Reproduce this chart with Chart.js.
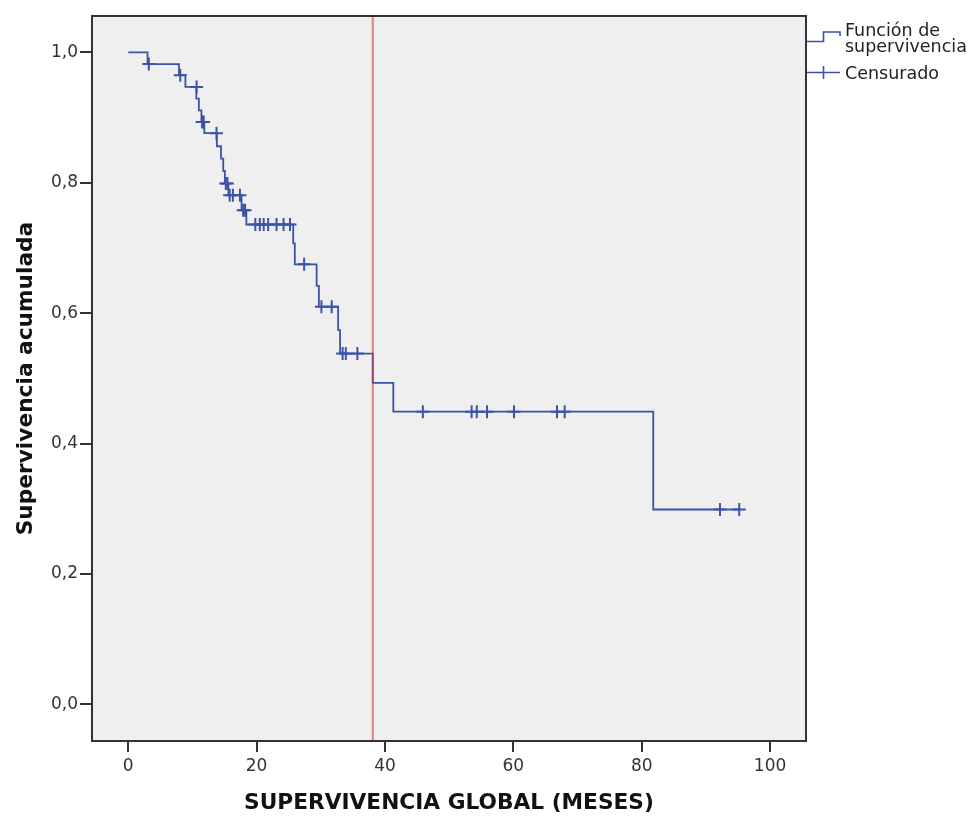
<!DOCTYPE html>
<html><head><meta charset="utf-8">
<script src="https://cdn.jsdelivr.net/npm/chart.js@4"></script>
<style>html,body{margin:0;padding:0;background:#fff}#wrap{width:973px;height:816px}</style>
</head><body><div id="wrap"><canvas id="c" width="973" height="816"></canvas></div>
<script>
// Kaplan-Meier step function (time in months, cumulative survival after the event)
const eventTimes = [0, 3.0, 7.9, 8.9, 10.6, 11.0, 11.4, 11.85, 13.8, 14.45, 14.8, 15.05, 15.6, 17.65, 18.4, 25.7, 25.95, 29.35, 29.7, 32.7, 33.0, 38.1, 41.3, 81.8, 95.2];
const survival   = [1.0, 0.982, 0.965, 0.947, 0.929, 0.911, 0.893, 0.876, 0.856, 0.837, 0.818, 0.799, 0.781, 0.758, 0.736, 0.707, 0.675, 0.642, 0.610, 0.574, 0.538, 0.493, 0.449, 0.299, 0.299];
// censored observations
const censorTimes    = [3.2, 8.1, 10.65, 11.5, 11.75, 13.75, 15.2, 15.45, 15.8, 16.3, 17.4, 17.9, 18.2, 19.8, 20.5, 21.1, 21.8, 23.1, 24.2, 25.2, 27.4, 30.1, 31.7, 33.4, 33.9, 35.7, 45.9, 53.5, 54.3, 55.9, 60.1, 66.8, 68.0, 92.2, 95.2];
const censorSurvival = [0.982, 0.965, 0.947, 0.893, 0.893, 0.876, 0.799, 0.799, 0.781, 0.781, 0.781, 0.758, 0.758, 0.736, 0.736, 0.736, 0.736, 0.736, 0.736, 0.736, 0.675, 0.610, 0.610, 0.538, 0.538, 0.538, 0.449, 0.449, 0.449, 0.449, 0.449, 0.449, 0.449, 0.299, 0.299];
// vertical reference line (months)
const referenceTime = 38.1;
const xTickValues = [0, 20, 40, 60, 80, 100];
const yTickValues = [0.0, 0.2, 0.4, 0.6, 0.8, 1.0];
const xRange = [-5.65, 105.6];
const yRange = [-0.056, 1.0557];
const legendLabels = [['Función de', 'supervivencia'], ['Censurado']];
const xTitle = 'SUPERVIVENCIA GLOBAL (MESES)';
const yTitle = 'Supervivencia acumulada';

const BLUE = '#3a53a8';
const FONT = 'DejaVu Sans';

const kmPoints = eventTimes.map((t, i) => ({x: t, y: survival[i]}));
const censorPoints = censorTimes.map((t, i) => ({x: t, y: censorSurvival[i]}));
const refPoints = [{x: referenceTime, y: yRange[0]}, {x: referenceTime, y: yRange[1]}];

const framePlugin = {
  id: 'frame',
  beforeDraw(chart) {
    const {ctx, chartArea: a} = chart;
    ctx.save();
    ctx.fillStyle = '#ffffff';
    ctx.fillRect(0, 0, chart.width, chart.height);
    ctx.fillStyle = '#efefef';
    ctx.fillRect(a.left, a.top, a.right - a.left, a.bottom - a.top);
    ctx.restore();
  },
  afterDatasetsDraw(chart) {
    const {ctx, chartArea: a} = chart;
    ctx.save();
    ctx.strokeStyle = '#333';
    ctx.lineWidth = 2;
    ctx.strokeRect(a.left, a.top, a.right - a.left, a.bottom - a.top);
    ctx.restore();
  },
  afterDraw(chart) {
    const {ctx, chartArea: a} = chart;
    const x0 = a.right + 1;
    ctx.save();
    ctx.strokeStyle = BLUE;
    ctx.lineWidth = 1.6;
    // survival function icon
    ctx.beginPath();
    ctx.moveTo(x0, 41.5);
    ctx.lineTo(x0 + 16.5, 41.5);
    ctx.lineTo(x0 + 16.5, 32);
    ctx.lineTo(x0 + 33, 32);
    ctx.lineTo(x0 + 33, 36);
    ctx.stroke();
    // censored icon
    ctx.beginPath();
    ctx.moveTo(x0, 72.5);
    ctx.lineTo(x0 + 33, 72.5);
    ctx.moveTo(x0 + 16.5, 66);
    ctx.lineTo(x0 + 16.5, 79);
    ctx.stroke();
    ctx.fillStyle = '#222';
    ctx.font = '17.5px "' + FONT + '"';
    ctx.textBaseline = 'alphabetic';
    ctx.textAlign = 'left';
    ctx.fillText(legendLabels[0][0], x0 + 38, 35.5);
    ctx.fillText(legendLabels[0][1], x0 + 38, 52);
    ctx.fillText(legendLabels[1][0], x0 + 38, 78.5);
    ctx.restore();
  }
};

new Chart(document.getElementById('c'), {
  type: 'scatter',
  data: {
    datasets: [
      {
        label: 'Función de supervivencia',
        data: kmPoints,
        showLine: true,
        stepped: 'before',
        borderColor: BLUE,
        backgroundColor: BLUE,
        borderWidth: 1.8,
        pointRadius: 0,
        order: 2
      },
      {
        label: 'Censurado',
        data: censorPoints,
        showLine: false,
        pointStyle: 'cross',
        pointRadius: 6.5,
        pointBorderWidth: 2,
        borderColor: BLUE,
        backgroundColor: BLUE,
        order: 1
      },
      {
        label: 'Referencia',
        data: refPoints,
        showLine: true,
        borderColor: 'rgba(232,45,45,0.55)',
        borderWidth: 2.2,
        pointRadius: 0,
        order: 0
      }
    ]
  },
  options: {
    responsive: false,
    animation: false,
    events: [],
    layout: {padding: {top: 16, right: 167, left: 0, bottom: 0}},
    plugins: {legend: {display: false}, tooltip: {enabled: false}},
    scales: {
      x: {
        type: 'linear',
        min: xRange[0],
        max: xRange[1],
        afterBuildTicks: s => { s.ticks = xTickValues.map(v => ({value: v})); },
        afterFit: s => { s.height = 75; },
        ticks: {
          font: {family: FONT, size: 17},
          color: '#333',
          padding: 4,
          maxRotation: 0,
          callback: v => String(v)
        },
        grid: {drawOnChartArea: false, drawTicks: true, tickLength: 11, color: '#333', lineWidth: 2},
        border: {display: false},
        title: {
          display: true,
          text: xTitle,
          font: {family: FONT, size: 21.7, weight: 'bold'},
          color: '#111',
          padding: {top: 0, bottom: 0}
        }
      },
      y: {
        type: 'linear',
        min: yRange[0],
        max: yRange[1],
        afterBuildTicks: s => { s.ticks = yTickValues.map(v => ({value: v})); },
        afterFit: s => { s.width = 92; },
        ticks: {
          font: {family: FONT, size: 17},
          color: '#333',
          padding: 2,
          callback: v => Number(v).toFixed(1).replace('.', ',')
        },
        grid: {drawOnChartArea: false, drawTicks: true, tickLength: 12, color: '#333', lineWidth: 2},
        border: {display: false},
        title: {
          display: true,
          text: yTitle,
          font: {family: FONT, size: 21.7, weight: 'bold'},
          color: '#111',
          padding: {top: 13, bottom: 0}
        }
      }
    }
  },
  plugins: [framePlugin]
});
</script>
</body></html>
